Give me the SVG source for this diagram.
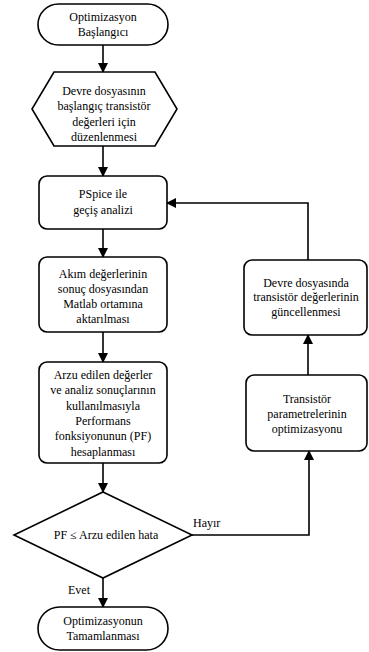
<svg xmlns="http://www.w3.org/2000/svg" width="369" height="652" viewBox="0 0 369 652">
<defs>
<marker id="ah" markerWidth="10" markerHeight="10" refX="9" refY="5" orient="auto" markerUnits="userSpaceOnUse">
<path d="M0,0 L10,5 L0,10 Z" fill="#000"/>
</marker>
<style>
.s{fill:#fff;stroke:#000;stroke-width:1.6}
.c{fill:none;stroke:#000;stroke-width:1.6}
text{font-size:12px;fill:#000;font-family:'Liberation Serif','DejaVu Serif',Tinos,'Times New Roman',Times,serif}
.m{text-anchor:middle}
</style>
</defs>
<rect width="369" height="652" fill="#fff"/>
<g id="connectors">
<line class="c" x1="103" y1="45" x2="103" y2="72" marker-end="url(#ah)"/>
<line class="c" x1="103" y1="146" x2="103" y2="176" marker-end="url(#ah)"/>
<line class="c" x1="103" y1="229" x2="103" y2="257" marker-end="url(#ah)"/>
<line class="c" x1="103" y1="332" x2="103" y2="362" marker-end="url(#ah)"/>
<line class="c" x1="103" y1="463" x2="103" y2="492" marker-end="url(#ah)"/>
<line class="c" x1="103" y1="578" x2="103" y2="607" marker-end="url(#ah)"/>
<polyline class="c" points="192,535 309,535 309,451" marker-end="url(#ah)"/>
<line class="c" x1="308" y1="375" x2="308" y2="335" marker-end="url(#ah)"/>
<polyline class="c" points="308,260 308,203 167,203" marker-end="url(#ah)"/>
<text x="193" y="527">Hayır</text>
<text x="68" y="594">Evet</text>
</g>
<g id="start">
<rect class="s" x="38" y="4" width="130" height="41" rx="20.5"/>
<text class="m" x="103" y="21">Optimizasyon</text>
<text class="m" x="103" y="36">Başlangıcı</text>
</g>
<g id="prep">
<polygon class="s" points="54,72 155,72 177,109 155,146 54,146 32,109"/>
<text class="m" x="104" y="95">Devre dosyasının</text>
<text class="m" x="104" y="110">başlangıç transistör</text>
<text class="m" x="104" y="126">değerleri için</text>
<text class="m" x="104" y="141">düzenlenmesi</text>
</g>
<g id="pspice">
<rect class="s" x="39" y="176" width="128" height="53" rx="8"/>
<text class="m" x="103" y="198">PSpice ile</text>
<text class="m" x="103" y="214">geçiş analizi</text>
</g>
<g id="akim">
<rect class="s" x="39" y="257" width="128" height="75" rx="8"/>
<text class="m" x="103" y="278">Akım değerlerinin</text>
<text class="m" x="103" y="293">sonuç dosyasından</text>
<text class="m" x="103" y="308">Matlab ortamına</text>
<text class="m" x="103" y="323">aktarılması</text>
</g>
<g id="pf">
<rect class="s" x="39" y="362" width="128" height="101" rx="8"/>
<text class="m" x="103" y="379">Arzu edilen değerler</text>
<text class="m" x="103" y="394">ve analiz sonuçlarının</text>
<text class="m" x="103" y="410">kullanılmasıyla</text>
<text class="m" x="103" y="425">Performans</text>
<text class="m" x="103" y="440">fonksiyonunun (PF)</text>
<text class="m" x="103" y="456">hesaplanması</text>
</g>
<g id="decision">
<polygon class="s" points="103,492 192,535 103,578 14,535"/>
<text class="m" x="106" y="539">PF ≤ Arzu edilen hata</text>
</g>
<g id="end">
<rect class="s" x="38" y="607" width="130" height="43" rx="21.5"/>
<text class="m" x="103" y="625">Optimizasyonun</text>
<text class="m" x="103" y="640">Tamamlanması</text>
</g>
<g id="update">
<rect class="s" x="244" y="260" width="123" height="75" rx="8"/>
<text class="m" x="306" y="287">Devre dosyasında</text>
<text class="m" x="306" y="301">transistör değerlerinin</text>
<text class="m" x="306" y="316">güncellenmesi</text>
</g>
<g id="opt">
<rect class="s" x="246" y="375" width="121" height="76" rx="8"/>
<text class="m" x="307" y="403">Transistör</text>
<text class="m" x="307" y="418">parametrelerinin</text>
<text class="m" x="307" y="433">optimizasyonu</text>
</g>
</svg>
